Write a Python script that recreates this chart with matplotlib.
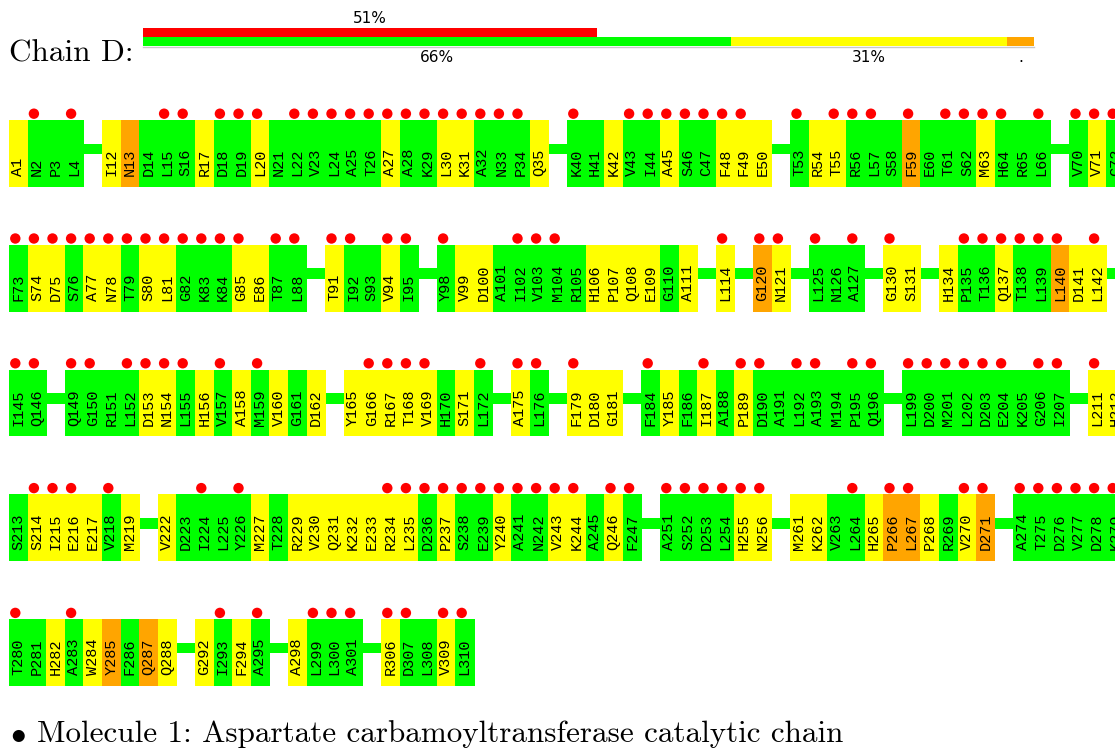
import matplotlib.pyplot as plt
from matplotlib.patches import Rectangle, Circle

# residue tokens, 60 per row, "-" marks a gap in the modelled chain
row1 = ("A1 N2 P3 L4 - I12 N13 D14 L15 S16 R17 D18 D19 L20 N21 L22 V23 L24 A25 T26 "
        "A27 A28 K29 L30 K31 A32 N33 P34 Q35 - K40 H41 K42 V43 I44 A45 S46 C47 F48 F49 "
        "E50 - T53 R54 T55 R56 L57 S58 F59 E60 T61 S62 M63 H64 R65 L66 - V70 V71 C72")
row2 = ("F73 S74 D75 S76 A77 N78 T79 S80 L81 G82 K83 K84 G85 E86 T87 L88 - T91 I92 S93 "
        "V94 I95 - Y98 V99 D100 A101 I102 V103 M104 R105 H106 P107 Q108 E109 G110 A111 - "
        "L114 - G120 N121 - L125 N126 A127 - G130 S131 - H134 P135 T136 Q137 T138 L139 "
        "L140 D141 L142 -")
row3 = ("I145 Q146 - Q149 G150 R151 L152 D153 N154 L155 H156 V157 A158 M159 V160 G161 "
        "D162 - Y165 G166 R167 T168 V169 H170 S171 L172 - A175 L176 - F179 D180 G181 - "
        "F184 Y185 F186 I187 A188 P189 D190 A191 L192 A193 M194 P195 Q196 - L199 D200 "
        "M201 L202 D203 E204 K205 G206 I207 - L211 H212")
row4 = ("S213 S214 I215 E216 E217 V218 M219 - V222 D223 I224 L225 Y226 M227 T228 R229 "
        "V230 Q231 K232 E233 R234 L235 D236 P237 S238 E239 Y240 A241 N242 V243 K244 A245 "
        "Q246 F247 - A251 S252 D253 L254 H255 N256 - M261 K262 V263 L264 H265 P266 L267 "
        "P268 R269 V270 D271 - A274 T275 D276 V277 D278 K279")
row5 = ("T280 P281 H282 A283 W284 Y285 F286 Q287 Q288 - G292 I293 F294 A295 - A298 L299 "
        "L300 A301 - R306 D307 L308 V309 L310")
rows = [row1.split(), row2.split(), row3.split(), row4.split(), row5.split()]

# geometry quality per residue (g = no outliers, y = one, o = two)
quality = [
    "yggg" "yogggyggyggggggyggyygggy" "ggyggyggyyy" "gyygggogggyggg" "gyg",
    "gyygyygyygggyygg" "yggyg" "gyygggggyyyygy" "y" "oy" "ggg" "yy" "yggyggoyy",
    "gg" "ggggyygygygygy" "yyyyygyg" "yg" "yyy" "gygygyggggggg" "ggggggggg" "yy",
    "gyyyygy" "yggggygyyyyyyygyggyggyygyg" "ggggyy" "yyggyooygyo" "gggggg",
    "ggygyogoy" "ygyg" "yggg" "yggyg",
]

# residues flagged with a red dot (electron density outliers)
flagged = set((
    "N2 L4 L15 S16 D18 D19 L20 L22 V23 L24 A25 T26 A27 A28 K29 L30 K31 A32 N33 P34 "
    "K40 V43 I44 A45 S46 C47 F48 F49 T53 T55 R56 L57 F59 T61 S62 M63 H64 L66 V70 V71 C72 "
    "F73 S74 D75 S76 A77 N78 T79 S80 L81 G82 K83 K84 G85 T87 L88 T91 I92 V94 I95 Y98 "
    "I102 V103 M104 L114 G120 N121 L125 A127 G130 P135 T136 Q137 T138 L139 L140 L142 "
    "I145 Q146 Q149 G150 L152 D153 N154 L155 V157 M159 G166 R167 T168 V169 L172 A175 "
    "L176 F179 F184 I187 P189 D190 L192 A193 P195 Q196 L199 D200 M201 L202 D203 E204 "
    "G206 I207 L211 S214 I215 E216 V218 I224 Y226 R234 L235 D236 P237 S238 E239 Y240 "
    "A241 N242 V243 K244 Q246 F247 A251 S252 D253 L254 H255 N256 L264 P266 L267 V270 "
    "D271 A274 T275 D276 V277 D278 K279 T280 A283 I293 A295 L299 L300 A301 R306 D307 "
    "V309 L310").split())

outlier_pct = 51
quality_pct = [66, 31, 3]
chain = "Chain D:"
molecule = "Molecule 1: Aspartate carbamoyltransferase catalytic chain"

colours = {"g": "#00ff00", "y": "#ffff00", "o": "#ffa500"}

fig = plt.figure(figsize=(11.15, 7.5), dpi=100)
ax = fig.add_axes([0, 0, 1, 1])
ax.set_xlim(0, 1115)
ax.set_ylim(750, 0)
ax.axis("off")

x0, cw, ch = 9.0, 18.6, 66.7
q = iter("".join(quality))
for r, toks in enumerate(rows):
    top = 120 + r * 124.8
    # backbone line behind the residues
    ax.add_patch(Rectangle((x0, top + 23.5), len(toks) * cw, 10.6,
                           color="#00ff00", lw=0))
    for c, name in enumerate(toks):
        if name == "-":
            continue
        left = x0 + c * cw
        ax.add_patch(Rectangle((left, top), cw + 0.5, ch,
                               color=colours[next(q)], lw=0))
        ax.text(left + cw / 2, top + 56, name, rotation=90, ha="center",
                va="bottom", fontsize=11, family="Liberation Mono")
        if name in flagged:
            ax.add_patch(Circle((left + cw / 2 - 3, top - 6.3), 5.2,
                                color="#ff0000", lw=0))

# summary bars
bx, bw = 143, 891
ax.add_patch(Rectangle((bx, 27.5), bw * outlier_pct / 100, 9.5, color="#ff0000", lw=0))
ax.text(bx + bw * outlier_pct / 200, 18.5, f"{outlier_pct}%", ha="center",
        va="center", fontsize=11)
start = bx
for pct, col in zip(quality_pct, ["#00ff00", "#ffff00", "#ffa500"]):
    w = bw * pct / 100
    ax.add_patch(Rectangle((start, 37), w, 9, color=col, lw=0))
    lab = f"{pct}%" if pct > 5 else "."
    ax.text(start + w / 2, 57, lab, ha="center", va="center", fontsize=11)
    start += w
ax.plot([bx, bx + bw], [46.5, 46.5], color="#c8c8c8", lw=1)

ax.text(9, 62, chain, fontsize=22.5, family="cmr10", va="baseline")
ax.text(18, 742, r"$\bullet$", fontsize=22.4, ha="center", va="baseline",
        math_fontfamily="cm")
ax.text(37, 742, molecule, fontsize=22.4, family="cmr10", va="baseline")

fig.savefig("out.png", dpi=100)
